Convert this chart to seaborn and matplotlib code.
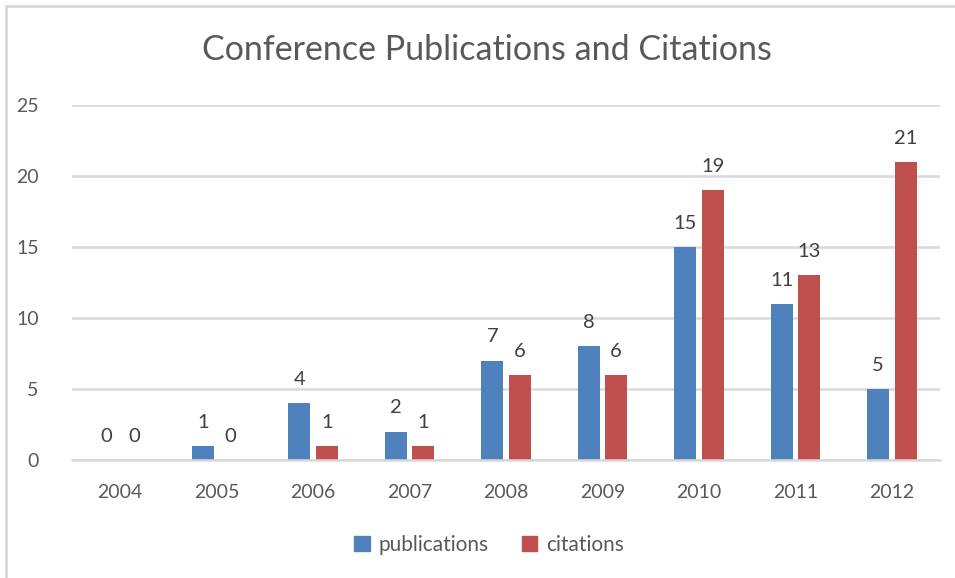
import pandas as pd
import numpy as np
import matplotlib.pyplot as plt
import seaborn as sns
from matplotlib.lines import Line2D

years = ["2004", "2005", "2006", "2007", "2008", "2009", "2010", "2011", "2012"]
publications = [0, 1, 4, 2, 7, 8, 15, 11, 5]
citations = [0, 0, 1, 1, 6, 6, 19, 13, 21]
series_names = ["publications", "citations"]
colors = ["#4F81BD", "#C0504D"]

df = pd.DataFrame({
    "year": years * 2,
    "series": [series_names[0]] * len(years) + [series_names[1]] * len(years),
    "value": publications + citations,
})

sns.set_theme(style="white")
plt.rcParams["font.family"] = ["Lato", "DejaVu Sans"]
txt = "#595959"
grid = "#D9D9D9"

fig = plt.figure(figsize=(9.55, 5.78), dpi=100)
ax = fig.add_axes([72 / 955, 118 / 578, 868 / 955, 355 / 578])

sns.barplot(data=df, x="year", y="value", hue="series", hue_order=series_names,
            palette=colors, width=0.57, gap=0.2, saturation=1, ax=ax,
            edgecolor="none", legend=False)

for c in ax.containers:
    ax.bar_label(c, padding=11, fontsize=14.5, color="#404040")

ax.set_ylim(0, 25)
ax.set_yticks([0, 5, 10, 15, 20, 25])
ax.set_xlim(-0.5, len(years) - 0.5)
ax.yaxis.grid(True, color=grid, linewidth=1.8)
ax.set_axisbelow(True)
for s in ["top", "right", "left"]:
    ax.spines[s].set_visible(False)
ax.spines["bottom"].set_color(grid)
ax.spines["bottom"].set_linewidth(1.8)
ax.tick_params(axis="both", length=0, labelsize=14, labelcolor=txt)
ax.tick_params(axis="y", pad=24)
ax.tick_params(axis="x", pad=17)
ax.set_xlabel("")
ax.set_ylabel("")

fig.text(0.510, 1 - 50 / 578, "Conference Publications and Citations",
         ha="center", va="center", fontsize=24.5, color=txt)

handles = [plt.Rectangle((0, 0), 1, 1, color=col) for col in colors]
fig.legend(handles, series_names, loc="center", bbox_to_anchor=(0.512, 1 - 545 / 578),
           ncol=2, frameon=False, fontsize=15, labelcolor=txt,
           handlelength=0.75, handleheight=0.75, handletextpad=0.4, columnspacing=1.6)

# chart border (cropped at right and bottom)
x0, y0 = 6 / 955, 1 - 6 / 578
fig.add_artist(Line2D([x0, 1.0], [y0, y0], transform=fig.transFigure, color=grid, lw=2))
fig.add_artist(Line2D([x0, x0], [0, y0], transform=fig.transFigure, color=grid, lw=2))

fig.savefig("out.png", dpi=100)
